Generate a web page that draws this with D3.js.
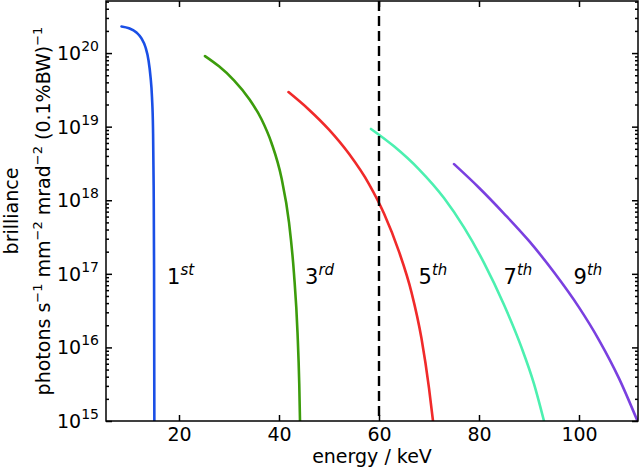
<!DOCTYPE html>
<html><head><meta charset="utf-8">
<script src="https://cdn.jsdelivr.net/npm/d3@7"></script>
<style>body{margin:0;background:#fff}svg{display:block}text{font-family:"DejaVu Sans",sans-serif;fill:#000}</style>
</head><body><svg id="c" width="640" height="471"></svg>
<script>
const harmonics = ["1","3","5","7","9"];
const suffixes = ["st","rd","th","th","th"];
const colors = ["#1a4fe6","#3c9c0c","#f02a2a","#4cf0b0","#7a40e0"];
const energy1 = [8.5, 10.0, 11.5, 12.5, 13.3, 13.9, 14.3, 14.6, 14.8, 14.93, 15.01, 15.07];
const bril1 = [2.3e20, 2.17e20, 1.9e20, 1.58e20, 1.2e20, 8.0e19, 4.8e19, 2.5e19, 9.5e18, 1.6e18, 1.3e17, 1e15];
const energy3 = [25.2, 28.0, 31.0, 34.0, 36.5, 38.5, 40.5, 42.0, 43.0, 43.7, 44.05, 44.2];
const bril3 = [9.1e19, 6.6e19, 4.27e19, 2.4e19, 1.26e19, 6.0e18, 2.0e18, 5.0e17, 1.0e17, 1.6e16, 3.2e15, 1e15];
const energy5 = [41.9, 46.0, 50.0, 54.0, 58.0, 61.0, 64.0, 66.5, 68.5, 70.0, 70.8];
const bril5 = [2.95e19, 1.7e19, 9.1e18, 4.27e18, 1.66e18, 6.6e17, 2.0e17, 5.6e16, 1.32e16, 2.8e15, 1e15];
const energy7 = [58.4, 63.0, 68.0, 73.0, 77.0, 81.0, 85.0, 88.5, 91.0, 93.0];
const bril7 = [9.3e18, 5.4e18, 2.63e18, 1.07e18, 4.27e17, 1.41e17, 3.8e16, 1.0e16, 3.2e15, 1e15];
const energy9 = [75.0, 80.0, 85.0, 90.0, 95.0, 100.0, 104.0, 108.0, 111.7];
const bril9 = [3.1e18, 1.48e18, 6.6e17, 2.8e17, 1.05e17, 3.5e16, 1.26e16, 3.8e15, 1e15];
const xTicks = [20, 40, 60, 80, 100];
const yExponents = [15, 16, 17, 18, 19, 20];
const cutoffEnergy = 60;
const labelEnergy = [17.6, 45.2, 67.9, 84.9, 98.9];
const labelBril = [1e17, 1e17, 1e17, 1e17, 1e17];
const xTitle = "energy / keV";

const energies = [energy1, energy3, energy5, energy7, energy9];
const brils = [bril1, bril3, bril5, bril7, bril9];

const L = 106, R = 638, T = 1, B = 421;
const svg = d3.select("#c");
const x = d3.scaleLinear().domain([5.4, 111.8]).range([L, R]);
const y = d3.scaleLog().domain([1e15, 5.1e20]).range([B, T]);

svg.append("defs").append("clipPath").attr("id","clip")
  .append("rect").attr("x",L).attr("y",T).attr("width",R-L).attr("height",B-T);

const plot = svg.append("g").attr("clip-path","url(#clip)");
const line = d3.line().x(d=>x(d[0])).y(d=>y(d[1])).curve(d3.curveMonotoneX);
energies.forEach((es,i)=>{
  const pts = es.map((e,j)=>[e, brils[i][j]]);
  plot.append("path").attr("d", line(pts)).attr("fill","none")
    .attr("stroke", colors[i]).attr("stroke-width",2.6).attr("stroke-linecap","round");
});
plot.append("line").attr("x1",x(cutoffEnergy)).attr("x2",x(cutoffEnergy))
  .attr("y1",T).attr("y2",B).attr("stroke","#000").attr("stroke-width",2.4)
  .attr("stroke-dasharray","10,5");

// axes with inward ticks
const gB = svg.append("g").attr("transform",`translate(0,${B})`)
  .call(d3.axisBottom(x).tickValues(xTicks).tickSize(-6).tickPadding(7).tickFormat(d3.format("d")));
const gT = svg.append("g").attr("transform",`translate(0,${T})`)
  .call(d3.axisTop(x).tickValues(xTicks).tickSize(-6).tickFormat(""));
const majors = yExponents.map(e=>Math.pow(10,e));
const minors = [];
yExponents.forEach(e=>{ for(let k=2;k<=9;k++){ const v=k*Math.pow(10,e); if(v<=y.domain()[1]) minors.push(v);} });
const gL = svg.append("g").attr("transform",`translate(${L},0)`)
  .call(d3.axisLeft(y).tickValues(majors).tickSize(-6).tickFormat(""));
const gLm = svg.append("g").attr("transform",`translate(${L},0)`)
  .call(d3.axisLeft(y).tickValues(minors).tickSize(-3).tickFormat(""));
const gR = svg.append("g").attr("transform",`translate(${R},0)`)
  .call(d3.axisRight(y).tickValues(majors).tickSize(-6).tickFormat(""));
const gRm = svg.append("g").attr("transform",`translate(${R},0)`)
  .call(d3.axisRight(y).tickValues(minors).tickSize(-3).tickFormat(""));
[gB,gT,gL,gLm,gR,gRm].forEach(g=>{
  g.select(".domain").remove();
  g.selectAll(".tick line").attr("stroke","#000").attr("stroke-width",1.5);
});
gB.selectAll(".tick text").attr("font-size",19).attr("font-family","DejaVu Sans").attr("fill","#000");

svg.append("rect").attr("x",L).attr("y",T).attr("width",R-L).attr("height",B-T)
  .attr("fill","none").attr("stroke","#000").attr("stroke-width",1.5);

// y tick labels
yExponents.forEach(e=>{
  const t = svg.append("text").attr("x",L-7).attr("y",y(Math.pow(10,e))+7)
    .attr("text-anchor","end").attr("font-size",19);
  t.append("tspan").text("10");
  t.append("tspan").attr("dy",-9).attr("font-size",14).text(String(e));
});

// x title
svg.append("text").attr("x",(L+R)/2).attr("y",463).attr("text-anchor","middle")
  .attr("font-size",19).text(xTitle);

// y title (two lines)
const cy = (T+B)/2;
svg.append("text").attr("transform",`translate(18,${cy}) rotate(-90)`)
  .attr("text-anchor","middle").attr("font-size",19).text("brilliance");
const t2 = svg.append("text").attr("transform",`translate(42,${cy}) rotate(-90)`)
  .attr("text-anchor","middle").attr("font-size",19);
const parts = [["photons s",""],["−1","sup"],[" mm",""],["−2","sup"],[" mrad",""],["−2","sup"],[" (0.1%BW)",""],["−1","sup"]];
parts.forEach(p=>{
  if(p[1]==="sup") t2.append("tspan").attr("dy",-8).attr("font-size",13).text(p[0]);
  else t2.append("tspan").attr("dy", t2.selectAll("tspan").size()>0?8:0).text(p[0]);
});

// harmonic labels
harmonics.forEach((h,i)=>{
  const t = svg.append("text").attr("x",x(labelEnergy[i])).attr("y",y(labelBril[i])+10).attr("font-size",21);
  t.append("tspan").text(h);
  t.append("tspan").attr("dy",-9).attr("font-size",15).attr("font-style","italic").text(suffixes[i]);
});
</script></body></html>
